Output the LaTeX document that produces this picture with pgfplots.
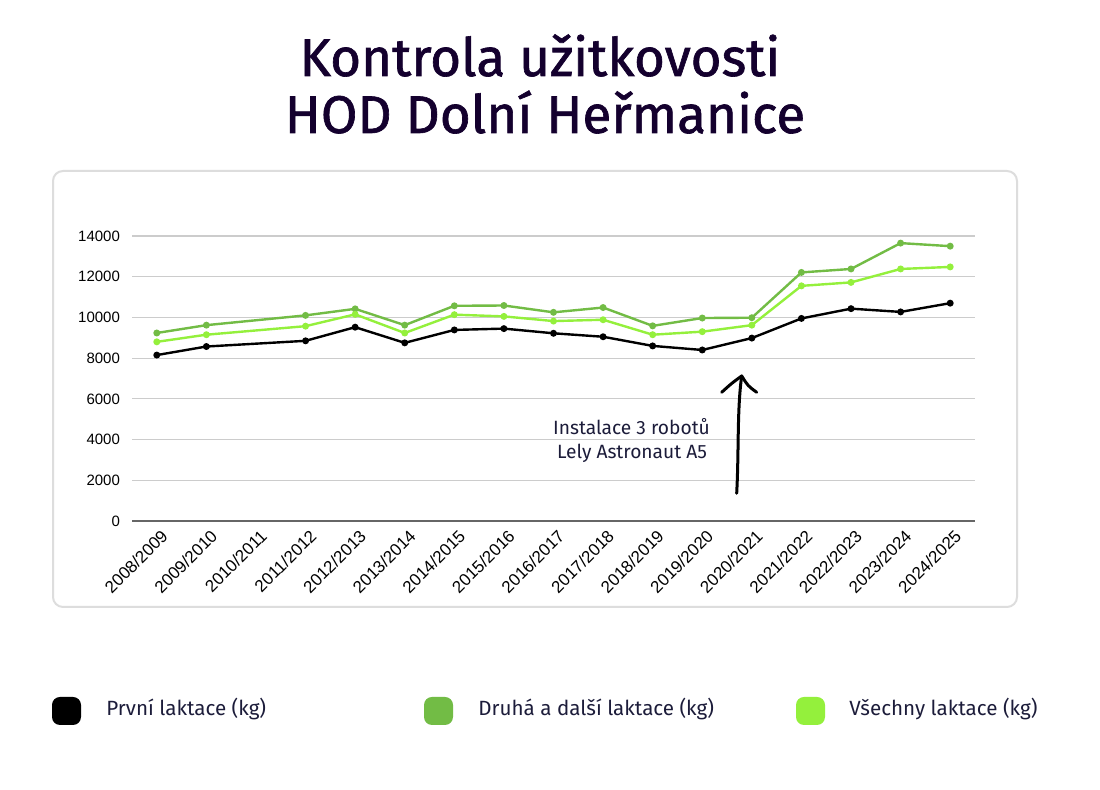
\documentclass[border=0pt]{standalone}
\usepackage{pgfplots}
\pgfplotsset{compat=1.18}
\usepackage{fontspec}
\setmainfont{Fira Sans}
\newfontfamily\titlefont[FakeBold=1.2]{Fira Sans}
\newfontfamily\tickfont{Liberation Sans}
\definecolor{titlecol}{HTML}{14002E}
\definecolor{dgreen}{HTML}{72BC45}
\definecolor{lgreen}{HTML}{94F03C}
\definecolor{framecol}{HTML}{DDDDDD}
\definecolor{gridcol}{HTML}{CCCCCC}
\definecolor{annot}{HTML}{1C1C3A}
\begin{document}
\begin{tikzpicture}[x=0.5pt,y=0.5pt]
\useasboundingbox (0,0) rectangle (1100,790);
\fill[white] (0,0) rectangle (1100,790);
\draw[framecol, line width=1pt, rounded corners=5pt] (53,183) rectangle (1017,619);
\node[titlecol, anchor=base, font=\titlefont\fontsize{26.5}{30}\selectfont] at (540,714) {Kontrola užitkovosti};
\node[titlecol, anchor=base, font=\titlefont\fontsize{26.5}{30}\selectfont] at (545,657) {HOD Dolní Heřmanice};
\begin{axis}[
  at={(66pt,134.5pt)}, anchor=south west,
  scale only axis, width=421.5pt, height=142.5pt,
  xmin=-0.5, xmax=16.5, ymin=0, ymax=14000,
  axis line style={draw=none},
  ymajorgrids, grid style={gridcol, line width=0.6pt},
  major tick length=0pt,
  ytick={0,2000,...,14000},
  scaled y ticks=false,
  yticklabel style={font=\tickfont\fontsize{7.5}{10}\selectfont, xshift=-2.5pt},
  yticklabel={\pgfmathprintnumber[assume math mode=true,set thousands separator={}]{\tick}},
  xtick={0,...,16},
  xticklabels={2008/2009,2009/2010,2010/2011,2011/2012,2012/2013,2013/2014,2014/2015,2015/2016,2016/2017,2017/2018,2018/2019,2019/2020,2020/2021,2021/2022,2022/2023,2023/2024,2024/2025},
  xticklabel style={font=\tickfont\fontsize{8.5}{10}\selectfont, rotate=45, anchor=east, xshift=2pt, yshift=-7pt},
  clip=false,
]
\draw[gray!80!black, line width=0.6pt] (axis cs:-0.5,0) -- (axis cs:16.5,0);
\addplot[dgreen, line width=1.2pt, mark=*, mark size=1.1pt] coordinates {
(0,9235) (1,9620) (3,10100) (4,10420) (5,9620) (6,10570) (7,10585) (8,10250) (9,10485) (10,9585) (11,9970) (12,9985) (13,12210) (14,12380) (15,13650) (16,13500)};
\addplot[lgreen, line width=1.2pt, mark=*, mark size=1.1pt] coordinates {
(0,8800) (1,9150) (3,9570) (4,10150) (5,9235) (6,10135) (7,10050) (8,9820) (9,9885) (10,9150) (11,9300) (12,9620) (13,11550) (14,11720) (15,12380) (16,12480)};
\addplot[black, line width=1.2pt, mark=*, mark size=1.1pt] coordinates {
(0,8150) (1,8570) (3,8850) (4,9520) (5,8750) (6,9385) (7,9450) (8,9220) (9,9050) (10,8600) (11,8400) (12,8985) (13,9950) (14,10430) (15,10270) (16,10700)};
\end{axis}
% annotation
\node[annot, font=\fontsize{9.6}{11}\selectfont] at (631.5,363) {Instalace 3 robotů};
\node[annot, font=\fontsize{9.6}{11}\selectfont] at (632,337) {Lely Astronaut A5};
\draw[black, line width=1.5pt, line cap=round] (736.7,296.7) .. controls (739,340) and (737,380) .. (741.7,414);
\draw[black, line width=1.5pt, line cap=round, line join=round] (721.7,397.7) .. controls (732,407) .. (741.7,414) .. controls (748,404) .. (756.7,397.7);
% legend
\fill[black, rounded corners=4pt] (52,65) rectangle (81,93);
\node[annot, anchor=west, inner sep=0pt, font=\fontsize{10.3}{12}\selectfont] at (106,81) {První laktace (kg)};
\fill[dgreen, rounded corners=4pt] (424,65) rectangle (453,93);
\node[annot, anchor=west, inner sep=0pt, font=\fontsize{10.3}{12}\selectfont] at (478,81) {Druhá a další laktace (kg)};
\fill[lgreen, rounded corners=4pt] (796,65) rectangle (825,93);
\node[annot, anchor=west, inner sep=0pt, font=\fontsize{10.3}{12}\selectfont] at (849,81) {Všechny laktace (kg)};
\end{tikzpicture}
\end{document}
